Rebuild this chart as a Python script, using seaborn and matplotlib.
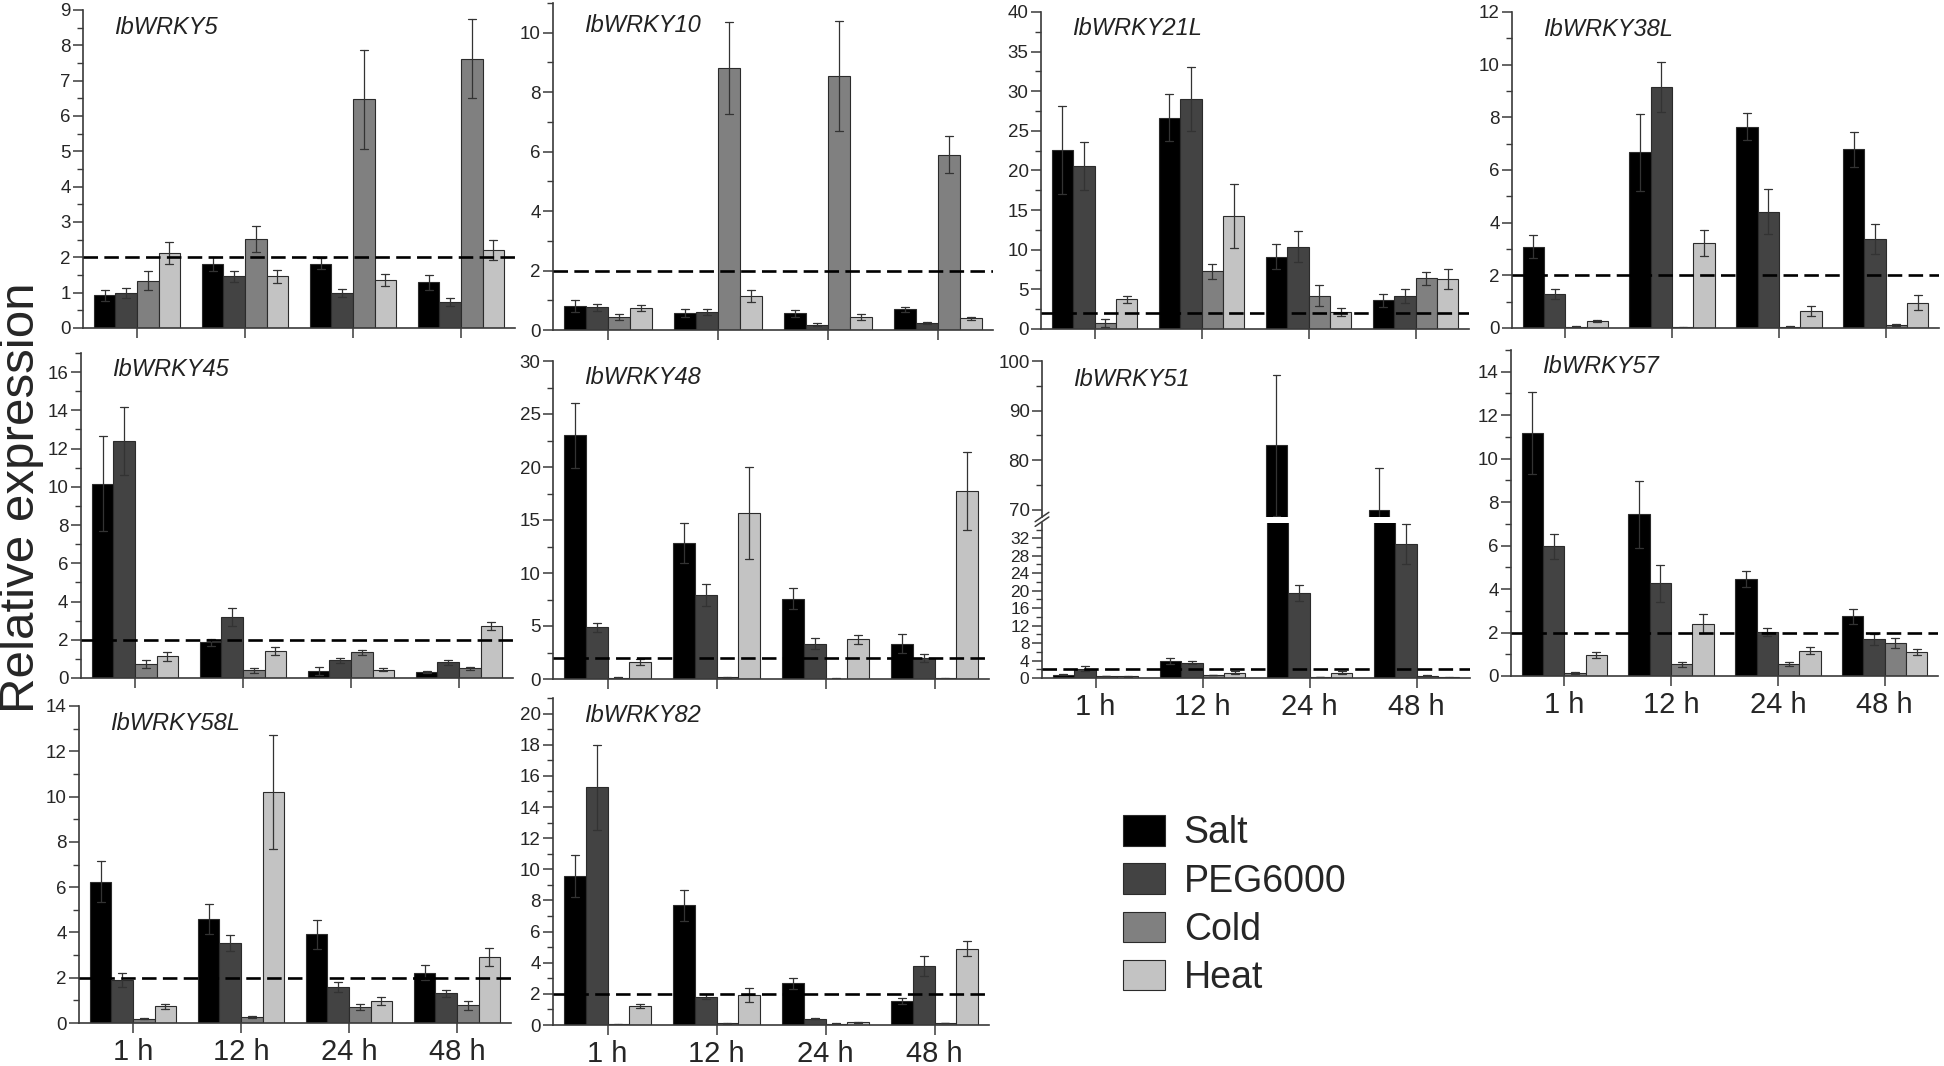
import numpy as np
import pandas as pd
import matplotlib
matplotlib.use("Agg")
import matplotlib.pyplot as plt
from matplotlib.ticker import MultipleLocator
import seaborn as sns

# categories
times = ["1 h", "12 h", "24 h", "48 h"]
treatments = ["Salt", "PEG6000", "Cold", "Heat"]
colors = ["#000000", "#434343", "#808080", "#c3c3c3"]

# rows = time points, columns = Salt, PEG6000, Cold, Heat
wrky5_mean = [[0.92, 0.99, 1.34, 2.12], [1.81, 1.46, 2.52, 1.46], [1.82, 0.99, 6.48, 1.37], [1.29, 0.74, 7.62, 2.21]]
wrky5_err = [[0.16, 0.14, 0.26, 0.30], [0.20, 0.16, 0.37, 0.19], [0.16, 0.12, 1.40, 0.17], [0.22, 0.12, 1.12, 0.28]]

wrky10_mean = [[0.81, 0.76, 0.44, 0.74], [0.58, 0.61, 8.82, 1.13], [0.56, 0.18, 8.55, 0.45], [0.69, 0.24, 5.90, 0.40]]
wrky10_err = [[0.19, 0.12, 0.09, 0.11], [0.13, 0.09, 1.54, 0.20], [0.11, 0.04, 1.85, 0.10], [0.10, 0.04, 0.63, 0.05]]

wrky21l_mean = [[22.6, 20.6, 0.76, 3.75], [26.65, 29.05, 7.28, 14.27], [9.14, 10.4, 4.2, 2.1], [3.62, 4.13, 6.4, 6.27]]
wrky21l_err = [[5.6, 3.0, 0.45, 0.42], [2.95, 4.05, 0.93, 4.0], [1.56, 2.0, 1.3, 0.5], [0.8, 0.88, 0.84, 1.27]]

wrky38l_mean = [[3.09, 1.30, 0.04, 0.27], [6.67, 9.15, 0.03, 3.24], [7.65, 4.42, 0.05, 0.65], [6.78, 3.39, 0.11, 0.96]]
wrky38l_err = [[0.44, 0.20, 0.02, 0.04], [1.46, 0.96, 0.02, 0.49], [0.50, 0.86, 0.02, 0.20], [0.66, 0.57, 0.03, 0.29]]

wrky45_mean = [[10.17, 12.4, 0.71, 1.13], [1.86, 3.18, 0.40, 1.39], [0.37, 0.92, 1.34, 0.43], [0.31, 0.82, 0.50, 2.71]]
wrky45_err = [[2.47, 1.8, 0.21, 0.22], [0.17, 0.47, 0.14, 0.21], [0.20, 0.14, 0.14, 0.07], [0.04, 0.14, 0.07, 0.21]]

wrky48_mean = [[23.0, 4.87, 0.13, 1.60], [12.85, 7.92, 0.16, 15.68], [7.57, 3.33, 0.03, 3.74], [3.33, 1.98, 0.06, 17.75]]
wrky48_err = [[3.05, 0.44, 0.05, 0.30], [1.9, 1.04, 0.05, 4.35], [0.97, 0.53, 0.02, 0.41], [0.88, 0.41, 0.02, 3.68]]

wrky51_mean = [[0.78, 2.17, 0.47, 0.40], [3.9, 3.55, 0.70, 1.24], [83.0, 19.46, 0.20, 1.24], [70.0, 30.7, 0.55, 0.15]]
wrky51_err = [[0.15, 0.5, 0.1, 0.1], [0.75, 0.4, 0.1, 0.3], [14.2, 1.9, 0.05, 0.35], [8.4, 4.5, 0.05, 0.05]]

wrky57_mean = [[11.19, 5.96, 0.14, 0.95], [7.45, 4.26, 0.54, 2.40], [4.46, 2.03, 0.57, 1.17], [2.75, 1.68, 1.52, 1.09]]
wrky57_err = [[1.89, 0.56, 0.03, 0.14], [1.54, 0.86, 0.12, 0.43], [0.38, 0.20, 0.09, 0.15], [0.35, 0.24, 0.25, 0.14]]

wrky58l_mean = [[6.24, 1.91, 0.19, 0.73], [4.60, 3.54, 0.28, 10.2], [3.91, 1.59, 0.70, 0.97], [2.23, 1.31, 0.78, 2.91]]
wrky58l_err = [[0.91, 0.32, 0.03, 0.10], [0.66, 0.34, 0.04, 2.52], [0.62, 0.24, 0.13, 0.17], [0.31, 0.15, 0.20, 0.40]]

wrky82_mean = [[9.58, 15.28, 0.04, 1.24], [7.70, 1.81, 0.10, 1.90], [2.67, 0.41, 0.08, 0.17], [1.54, 3.78, 0.13, 4.91]]
wrky82_err = [[1.35, 2.73, 0.01, 0.13], [1.0, 0.15, 0.02, 0.45], [0.36, 0.05, 0.02, 0.04], [0.21, 0.66, 0.02, 0.47]]

sns.set_style("ticks")
plt.rcParams["font.family"] = ["Liberation Sans", "DejaVu Sans"]

W, H = 1944, 1066
fig = plt.figure(figsize=(W / 100, H / 100), dpi=100)
AX_COLOR = "#3a3a3a"


def make_ax(left, top, right, bottom):
    return fig.add_axes([left / W, 1 - bottom / H, (right - left) / W, (bottom - top) / H])


def long_frame(mean, err):
    rows = []
    for ti, t in enumerate(times):
        for ki, k in enumerate(treatments):
            m, e = mean[ti][ki], err[ti][ki]
            rows.append((t, k, m - e))
            rows.append((t, k, m + e))
    return pd.DataFrame(rows, columns=["time", "treatment", "value"])


def draw_bars(ax, mean, err, legend=False):
    df = long_frame(mean, err)
    sns.barplot(data=df, x="time", y="value", hue="treatment",
                order=times, hue_order=treatments,
                palette=dict(zip(treatments, colors)), saturation=1,
                estimator="mean", errorbar=lambda v: (v.min(), v.max()),
                capsize=0.3, err_kws={"color": "#333333", "linewidth": 0.9},
                edgecolor="#2b2b2b", linewidth=0.8, ax=ax, legend=legend)
    ax.set_xlabel("")
    ax.set_ylabel("")


def style_ax(ax, ylim, major, minor, xlabels):
    ax.set_ylim(*ylim)
    ax.yaxis.set_major_locator(MultipleLocator(major))
    ax.yaxis.set_minor_locator(MultipleLocator(minor))
    for s in ["top", "right"]:
        ax.spines[s].set_visible(False)
    for s in ["left", "bottom"]:
        ax.spines[s].set_color(AX_COLOR)
        ax.spines[s].set_linewidth(1.2)
    ax.tick_params(axis="y", which="major", direction="out", length=7, width=1.1,
                   color=AX_COLOR, labelsize=13.5, pad=2)
    ax.tick_params(axis="y", which="minor", direction="out", length=4, width=1.0, color=AX_COLOR)
    ax.tick_params(axis="x", which="major", direction="out", length=7, width=1.1,
                   color=AX_COLOR, labelsize=21, pad=4, labelbottom=xlabels)
    ax.axhline(2, color="black", lw=1.9, ls=(0, (5.5, 2.4)), zorder=5)


def gene_title(ax, name, dy=-17):
    ax.annotate(name, xy=(0, 1), xycoords="axes fraction", xytext=(31, dy),
                textcoords="offset pixels", fontsize=17, style="italic",
                ha="left", va="center", color="#222222")


# name, mean, err, rect (px), ylim, major, minor, x labels
panels = [
    ("IbWRKY5", wrky5_mean, wrky5_err, (83, 10, 515, 328), (0, 9), 1, 0.5, False),
    ("IbWRKY10", wrky10_mean, wrky10_err, (553, 3, 993, 330), (0, 11), 2, 1, False),
    ("IbWRKY21L", wrky21l_mean, wrky21l_err, (1041, 12, 1469, 329), (0, 40), 5, 2.5, False),
    ("IbWRKY38L", wrky38l_mean, wrky38l_err, (1512, 12, 1939, 328), (0, 12), 2, 1, False),
    ("IbWRKY45", wrky45_mean, wrky45_err, (81, 353, 513, 678), (0, 17), 2, 1, False),
    ("IbWRKY48", wrky48_mean, wrky48_err, (553, 361, 989, 679), (0, 30), 5, 2.5, False),
    ("IbWRKY57", wrky57_mean, wrky57_err, (1511, 350, 1938, 676), (0, 15), 2, 1, True),
    ("IbWRKY58L", wrky58l_mean, wrky58l_err, (79, 706, 511, 1023), (0, 14), 2, 1, True),
    ("IbWRKY82", wrky82_mean, wrky82_err, (553, 698, 989, 1025), (0, 21), 2, 1, True),
]

legend_handles = None
for i, (name, mean, err, rect, ylim, major, minor, xl) in enumerate(panels):
    ax = make_ax(*rect)
    draw_bars(ax, mean, err, legend=(i == 0))
    if i == 0:
        legend_handles = ax.get_legend_handles_labels()
        ax.get_legend().remove()
    style_ax(ax, ylim, major, minor, xl)
    title_dy = -17 if rect[1] > 5 else -22
    gene_title(ax, name, title_dy)

# IbWRKY51 with broken y axis
ax_up = make_ax(1042, 361, 1470, 517)
ax_lo = make_ax(1042, 523, 1470, 678)
draw_bars(ax_up, wrky51_mean, wrky51_err)
draw_bars(ax_lo, wrky51_mean, wrky51_err)
style_ax(ax_lo, (0, 35.5), 4, 2, True)
ax_up.set_ylim(68.5, 100)
ax_up.yaxis.set_major_locator(MultipleLocator(10))
ax_up.yaxis.set_minor_locator(MultipleLocator(5))
for s in ["top", "right", "bottom"]:
    ax_up.spines[s].set_visible(False)
ax_up.spines["left"].set_color(AX_COLOR)
ax_up.spines["left"].set_linewidth(1.2)
ax_up.tick_params(axis="y", which="major", direction="out", length=7, width=1.1,
                  color=AX_COLOR, labelsize=13.5, pad=2)
ax_up.tick_params(axis="y", which="minor", direction="out", length=4, width=1.0, color=AX_COLOR)
ax_up.tick_params(axis="x", bottom=False, labelbottom=False)
ax_lo.tick_params(axis="y", which="major", labelsize=12.5)
gene_title(ax_up, "IbWRKY51", -19)
for y0 in (-0.03, 0.0):
    ax_up.plot([-0.016, 0.016], [y0 - 0.03, y0 + 0.03], transform=ax_up.transAxes,
               color=AX_COLOR, lw=1.1, clip_on=False)

fig.text(22 / W, 1 - 498 / H, "Relative expression", rotation=90, fontsize=35.5,
         ha="center", va="center")

handles, labels = legend_handles
fig.legend(handles, labels, loc="upper left", bbox_to_anchor=(1123 / W, 1 - 815 / H),
           frameon=False, fontsize=27, handlelength=1.12, handleheight=0.88,
           handletextpad=0.5, labelspacing=0.32, borderpad=0, borderaxespad=0)

fig.savefig("out.png", dpi=100)
